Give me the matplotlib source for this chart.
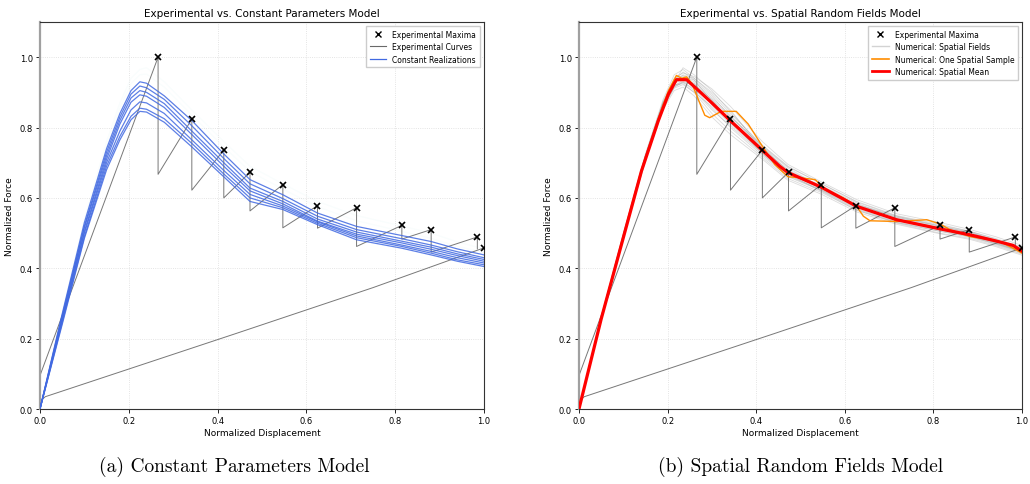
import matplotlib
matplotlib.use("Agg")
import matplotlib.pyplot as plt
import numpy as np

# Experimental load-displacement curves (normalized)
exp_saw_x = [0, .266, .266, .342, .342, .414, .414, .473, .473, .547, .547, .625, .625,
             .713, .713, .815, .815, .881, .881, .985, .985]
exp_saw_y = [.095, 1.0, .667, .824, .622, .736, .600, .673, .563, .638, .515, .578, .514,
             .572, .462, .522, .483, .510, .446, .489, .455]
exp_long_x = [0, .012, .44, .75, 1.0]
exp_long_y = [.022, .035, .214, .345, .458]

# Experimental maxima
max_x = [.266, .342, .414, .473, .547, .625, .713, .815, .881, .985, 1.0]
max_y = [1.0, .824, .736, .673, .638, .578, .572, .522, .510, .489, .458]

# Constant parameter realizations
const_x = [0, .05, .10, .15, .18, .205, .225, .24, .28, .342, .414, .473, .547, .625,
           .713, .815, .881, .94, 1.0]
const_runs = [
    [0, .27, .53, .74, .84, .905, .93, .926, .89, .82, .725, .652, .609, .557, .519, .493, .476, .455, .438],
    [0, .265, .52, .73, .83, .895, .918, .913, .88, .805, .712, .64, .598, .548, .51, .484, .466, .447, .43],
    [0, .26, .515, .72, .82, .884, .905, .90, .868, .79, .70, .628, .59, .54, .503, .477, .46, .441, .425],
    [0, .255, .505, .71, .81, .872, .893, .889, .857, .78, .69, .62, .583, .534, .497, .472, .454, .436, .42],
    [0, .25, .50, .70, .79, .85, .873, .87, .84, .765, .678, .61, .577, .532, .492, .466, .448, .43, .415],
    [0, .245, .49, .69, .775, .832, .855, .852, .825, .755, .668, .60, .572, .528, .487, .462, .443, .424, .41],
    [0, .24, .485, .68, .765, .822, .846, .844, .815, .745, .66, .59, .567, .524, .481, .457, .438, .42, .405],
]
const_faint = [
    [0, .27, .54, .76, .87, .94, .965, .97, .93, .85, .76, .69, .64, .59, .55, .52, .50, .475, .455],
    [0, .26, .52, .745, .855, .925, .95, .952, .915, .835, .745, .675, .625, .575, .535, .505, .485, .462, .445],
]

# Spatial random field realizations
field_x = [0, .05, .10, .15, .19, .215, .235, .26, .30, .342, .414, .472, .548, .627,
           .717, .815, .883, .94, 1.0]
field_runs = [
    [0, .26, .50, .725, .88, .95, .965, .94, .895, .84, .75, .69, .64, .59, .55, .525, .505, .485, .46],
    [0, .25, .485, .705, .855, .915, .928, .91, .855, .80, .72, .66, .62, .568, .53, .505, .49, .47, .445],
    [0, .258, .495, .72, .872, .935, .948, .93, .885, .835, .74, .68, .632, .58, .545, .52, .498, .478, .452],
    [0, .252, .488, .71, .86, .92, .93, .905, .85, .805, .725, .665, .622, .57, .532, .508, .492, .472, .447],
    [0, .256, .492, .718, .868, .93, .945, .935, .89, .83, .745, .675, .635, .585, .542, .515, .50, .48, .455],
    [0, .254, .49, .712, .862, .92, .925, .90, .86, .81, .728, .668, .618, .565, .53, .505, .488, .468, .442],
    [0, .255, .491, .716, .866, .928, .97, .95, .905, .845, .745, .685, .63, .575, .54, .515, .495, .473, .448],
    [0, .253, .489, .713, .862, .918, .935, .915, .875, .825, .735, .67, .625, .578, .535, .512, .493, .476, .45],
    [0, .257, .494, .719, .87, .932, .94, .925, .865, .815, .73, .673, .63, .58, .545, .518, .503, .48, .458],
    [0, .252, .487, .71, .858, .912, .922, .90, .84, .79, .715, .655, .615, .565, .528, .50, .485, .465, .44],
    [0, .259, .497, .722, .875, .94, .955, .945, .91, .86, .76, .695, .645, .595, .555, .53, .51, .49, .465],
    [0, .251, .486, .707, .852, .905, .915, .89, .83, .78, .71, .65, .61, .56, .525, .498, .482, .462, .437],
    [0, .256, .493, .717, .867, .93, .95, .94, .90, .85, .735, .67, .628, .582, .548, .522, .505, .483, .455],
    [0, .253, .49, .712, .86, .915, .93, .92, .88, .815, .738, .678, .626, .572, .537, .51, .49, .47, .446],
    [0, .257, .494, .72, .87, .935, .958, .935, .875, .82, .725, .662, .622, .576, .54, .51, .495, .474, .448],
    [0, .254, .49, .714, .864, .924, .94, .925, .88, .83, .748, .688, .64, .588, .548, .52, .502, .478, .452],
]

# One spatial sample
sample_x = [0, .05, .104, .141, .179, .202, .22, .232, .243, .255, .269, .284, .295, .321,
            .355, .382, .416, .442, .472, .495, .533, .558, .597, .627, .642, .657, .717,
            .785, .815, .837, .883, .928, .95, .98, 1.0]
sample_y = [0, .258, .51, .68, .825, .905, .948, .94, .944, .925, .881, .835, .828, .846,
            .846, .81, .743, .695, .66, .658, .652, .624, .60, .576, .548, .535, .533,
            .538, .526, .51, .49, .481, .476, .457, .443]

# Spatial mean
mean_x = [0, .05, .104, .141, .179, .202, .215, .22, .243, .27, .30, .342, .38, .416,
          .453, .472, .548, .627, .717, .815, .883, .94, .98, 1.0]
mean_y = [0, .255, .505, .676, .819, .895, .925, .936, .936, .905, .87, .819, .775, .733,
          .69, .672, .63, .576, .538, .512, .495, .478, .465, .449]


def draw_experiment(ax):
    ax.plot(exp_saw_x, exp_saw_y, color='dimgray', lw=0.7, alpha=0.9, zorder=2)
    ax.plot(exp_long_x, exp_long_y, color='dimgray', lw=0.7, alpha=0.9, zorder=2)
    ax.plot(max_x, max_y, 'x', color='k', ms=5, mew=1.2, zorder=5)


def style_axes(ax, title):
    ax.set_xlim(0, 1.0)
    ax.set_ylim(0, 1.1)
    ax.set_xticks(np.arange(0, 1.01, 0.2))
    ax.set_yticks(np.arange(0, 1.01, 0.2))
    ax.grid(True, linestyle=':', color='lightgray', lw=0.6, alpha=0.8)
    ax.set_title(title, fontsize=7.5, pad=4)
    ax.set_xlabel('Normalized Displacement', fontsize=6.5, labelpad=2)
    ax.set_ylabel('Normalized Force', fontsize=6.5, labelpad=4)
    ax.tick_params(labelsize=6, length=3, width=0.6, pad=2)
    for s in ax.spines.values():
        s.set_linewidth(0.8)
        s.set_color('#333333')
    ax.spines['left'].set_color('#a0a0a0')
    ax.spines['left'].set_linewidth(1.6)


fig = plt.figure(figsize=(10.30, 4.85), dpi=100)
ax1 = fig.add_axes([0.0388, 0.1546, 0.4311, 0.7980])
ax2 = fig.add_axes([0.5621, 0.1546, 0.4301, 0.7980])

# Left panel: constant parameters model
for run in const_faint:
    ax1.plot(const_x, run, color='lightseagreen', lw=1.0, alpha=0.025, zorder=1)
draw_experiment(ax1)
for run in const_runs:
    ax1.plot(const_x, run, color='royalblue', lw=0.9, alpha=0.85, zorder=3)
style_axes(ax1, 'Experimental vs. Constant Parameters Model')
h1 = [ax1.plot([], [], 'x', color='k', ms=4, mew=1.0)[0],
      ax1.plot([], [], color='dimgray', lw=0.8)[0],
      ax1.plot([], [], color='royalblue', lw=0.9)[0]]
ax1.legend(h1, ['Experimental Maxima', 'Experimental Curves', 'Constant Realizations'],
           loc='upper right', fontsize=5.5, framealpha=1, edgecolor='#cccccc',
           fancybox=False, handlelength=2.2, borderpad=0.5, labelspacing=0.45)

# Right panel: spatial random fields model
for run in field_runs:
    ax2.plot(field_x, run, color='gray', lw=0.6, alpha=0.28, zorder=1)
draw_experiment(ax2)
ax2.plot(sample_x, sample_y, color='darkorange', lw=1.0, zorder=3)
ax2.plot(mean_x, mean_y, color='red', lw=2.3, zorder=4)
style_axes(ax2, 'Experimental vs. Spatial Random Fields Model')
h2 = [ax2.plot([], [], 'x', color='k', ms=4, mew=1.0)[0],
      ax2.plot([], [], color='lightgray', lw=1.0)[0],
      ax2.plot([], [], color='darkorange', lw=1.2)[0],
      ax2.plot([], [], color='red', lw=2.0)[0]]
ax2.legend(h2, ['Experimental Maxima', 'Numerical: Spatial Fields',
                'Numerical: One Spatial Sample', 'Numerical: Spatial Mean'],
           loc='upper right', fontsize=5.5, framealpha=1, edgecolor='#cccccc',
           fancybox=False, handlelength=2.2, borderpad=0.5, labelspacing=0.45)

# Subfigure captions
fig.text(0.227, 0.037, '(a) Constant Parameters Model', fontsize=14,
         family='cmr10', ha='center', va='center')
fig.text(0.777, 0.037, '(b) Spatial Random Fields Model', fontsize=14,
         family='cmr10', ha='center', va='center')

fig.savefig('out.png', dpi=100)
